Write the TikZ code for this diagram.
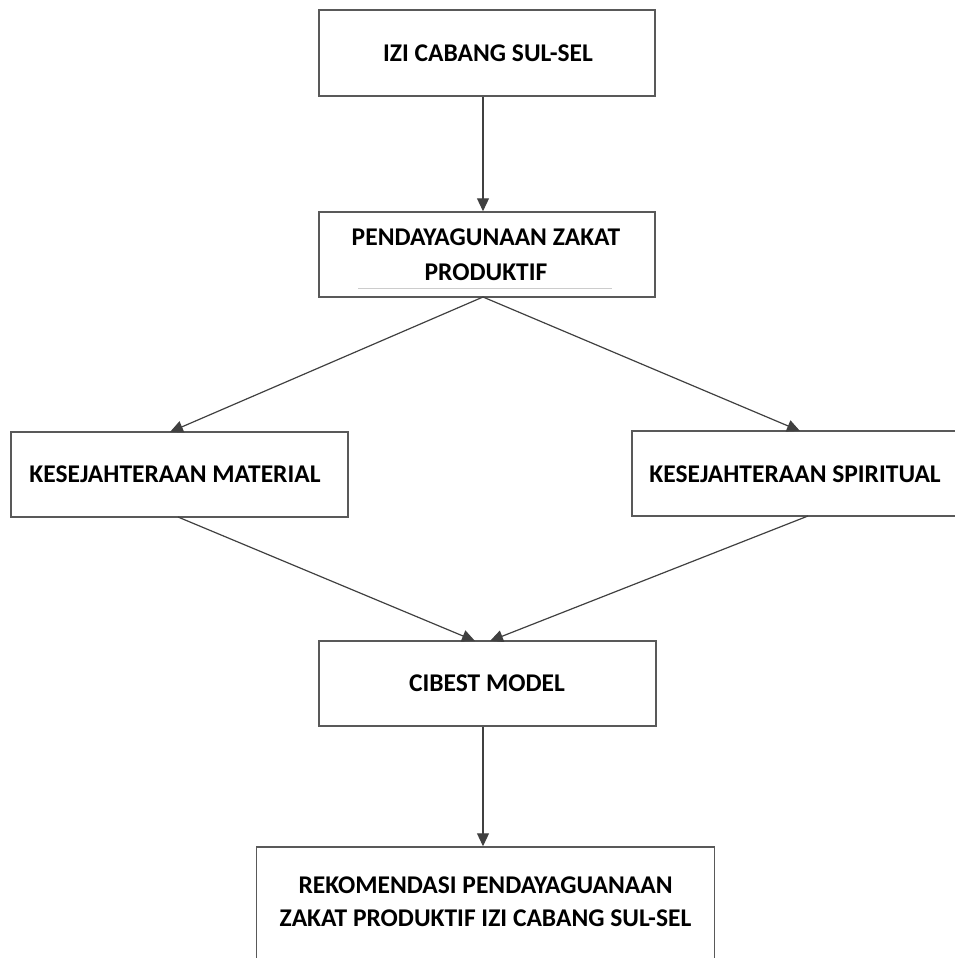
\documentclass[tikz,border=0pt]{standalone}
\usepackage{fontspec}
\setmainfont{Carlito}
\usetikzlibrary{arrows.meta}
\begin{document}
\begin{tikzpicture}[x=1pt,y=-1pt,
  boxnode/.style={draw=black!65, line width=1.5pt, fill=white, inner sep=0pt},
  lbl/.style={font=\bfseries\fontsize{25.5}{35}\selectfont, align=center, inner sep=0pt},
  conn/.style={draw=black!75, line width=1.2pt, -{Triangle[length=13pt,width=12pt]}}]
\useasboundingbox (0,0) rectangle (955,958);
\clip (0,0) rectangle (955,958);
% boxes
\node[boxnode, minimum width=336pt, minimum height=86pt] (izi) at (487,53) {};
\node[lbl] (izit) at (488,53) {IZI CABANG SUL-SEL};
\node[boxnode, minimum width=336pt, minimum height=85pt] (pend) at (487,254.5) {};
\node[lbl] (pendt) at (486,254.5) {PENDAYAGUNAAN ZAKAT\\PRODUKTIF};
\coordinate (ulA) at (358,288);
\coordinate (ulB) at (612,288);
\draw[black!20, line width=1pt] (ulA) -- (ulB);
\node[boxnode, minimum width=337pt, minimum height=85pt] (mat) at (179.5,474.5) {};
\node[lbl] (matt) at (175,474) {KESEJAHTERAAN MATERIAL};
\node[boxnode, minimum width=330pt, minimum height=85pt] (spi) at (797,473.5) {};
\node[lbl] (spit) at (795,474) {KESEJAHTERAAN SPIRITUAL};
\node[boxnode, minimum width=337pt, minimum height=85pt] (cib) at (487.5,683.5) {};
\node[lbl] (cibt) at (487,683.5) {CIBEST MODEL};
\node[boxnode, minimum width=458pt, minimum height=125pt] (rek) at (485.5,909.5) {};
\node[lbl, font=\bfseries\fontsize{25.5}{33}\selectfont] (rekt) at (485.5,901.5) {REKOMENDASI PENDAYAGUANAAN\\ZAKAT PRODUKTIF IZI CABANG SUL-SEL};
% connectors
\coordinate (s1) at (483,297);
\coordinate (t1) at (170,432);
\coordinate (t2) at (800,431);
\coordinate (s3) at (178,517);
\coordinate (t3) at (475,641);
\coordinate (s4) at (808,516);
\coordinate (t4) at (490,641);
\draw[conn] (izi.south -| s1) -- (pend.north -| s1);
\draw[conn] (s1) -- (t1);
\draw[conn] (s1) -- (t2);
\draw[conn] (s3) -- (t3);
\draw[conn] (s4) -- (t4);
\draw[conn] (cib.south -| s1) -- (rek.north -| s1);
\end{tikzpicture}
\end{document}
